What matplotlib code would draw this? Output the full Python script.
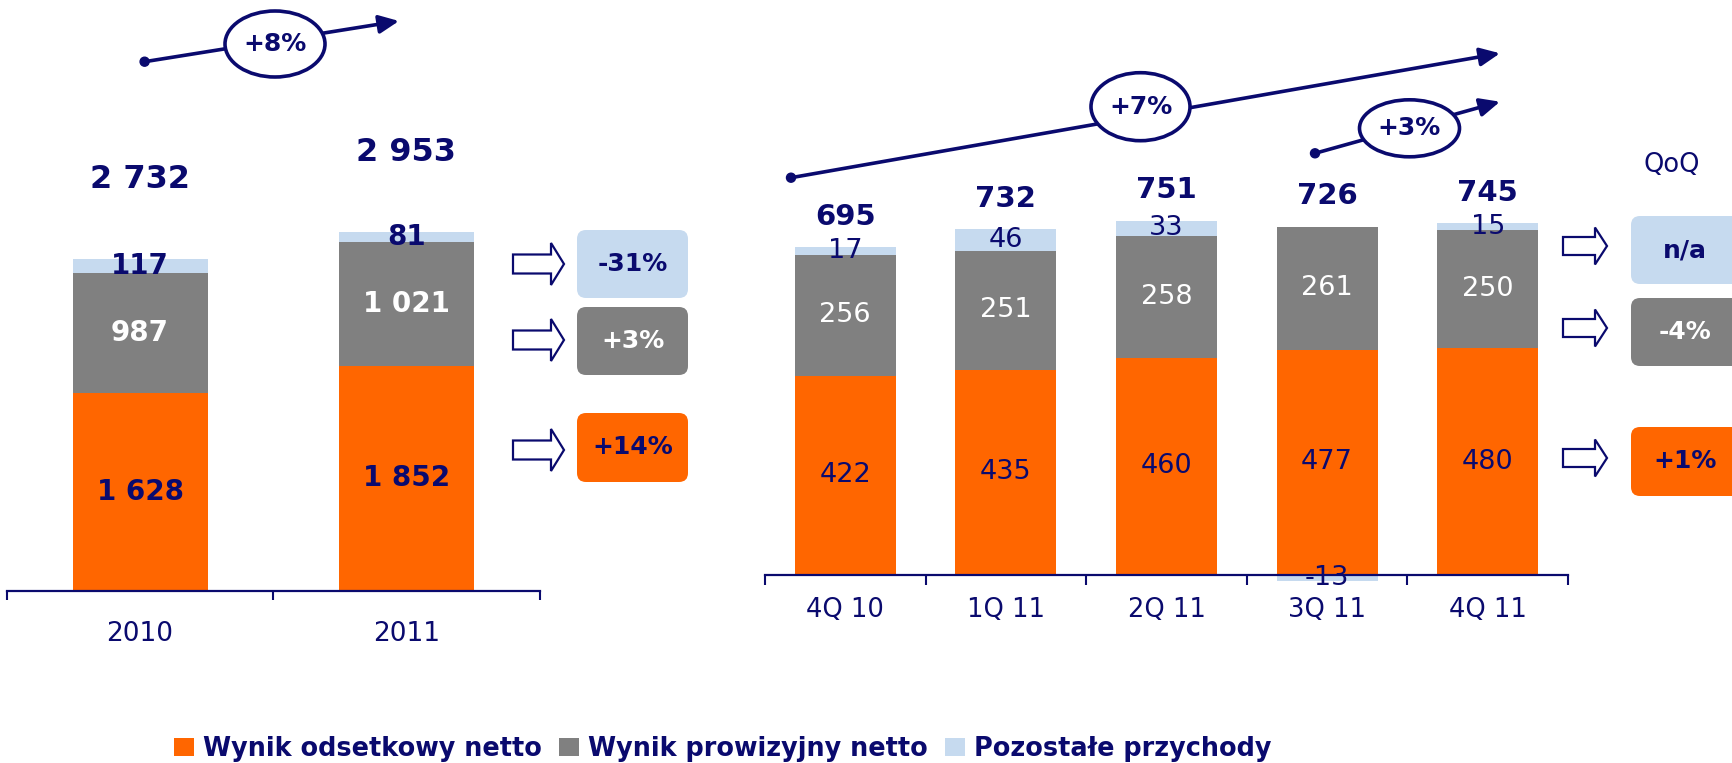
import matplotlib
matplotlib.use('Agg')
import matplotlib.pyplot as plt
import matplotlib.transforms as mtransforms
from matplotlib.patches import FancyBboxPatch, Ellipse, Polygon, Circle, FancyArrowPatch

plt.rcParams['font.family'] = ['DejaVu Sans']

NAVY = '#0A0A6E'
ORANGE = '#FF6600'
GREY = '#808080'
LIGHT = '#C6DAEF'

# ---------------- data ----------------
years = ['2010', '2011']
y_interest = [1628, 1852]
y_fee = [987, 1021]
y_other = [117, 81]
y_total = [2732, 2953]
y_change = ['-31%', '+3%', '+14%']      # other, fee, interest
y_growth = '+8%'

quarters = ['4Q 10', '1Q 11', '2Q 11', '3Q 11', '4Q 11']
q_interest = [422, 435, 460, 477, 480]
q_fee = [256, 251, 258, 261, 250]
q_other = [17, 46, 33, -13, 15]
q_total = [695, 732, 751, 726, 745]
q_change = ['n/a', '-4%', '+1%']        # other, fee, interest
q_growth_yoy = '+7%'
q_growth_qoq = '+3%'
qoq_title = 'QoQ'

legend_labels = ['Wynik odsetkowy netto', 'Wynik prowizyjny netto', 'Pozostałe przychody']

# ---------------- figure ----------------
W, H = 1732, 763
fig = plt.figure(figsize=(W / 100, H / 100), dpi=100)
px = mtransforms.Affine2D().scale(1, -1).translate(0, H)   # pixel coords, y from top


def add_axes_px(left, top, right, bottom):
    return fig.add_axes([left / W, 1 - bottom / H, (right - left) / W, (bottom - top) / H])


def fmt(v):
    return f"{v:,}".replace(',', ' ')


def setup_axis(ax, n, tick_len_pt):
    ax.set_xlim(-0.5, n - 0.5)
    for s in ['top', 'right', 'left']:
        ax.spines[s].set_visible(False)
    ax.spines['bottom'].set_position(('data', 0))
    ax.spines['bottom'].set_color(NAVY)
    ax.spines['bottom'].set_linewidth(1.6)
    ax.spines['bottom'].set_zorder(5)
    ax.set_yticks([])
    ax.set_xticks([])
    ax.set_xticks([i - 0.5 for i in range(n + 1)], minor=True)
    ax.tick_params(axis='x', which='minor', length=tick_len_pt, width=1.5,
                   color=NAVY, direction='out')
    ax.patch.set_alpha(0)


def stacked(ax, interest, fee, other, width):
    x = list(range(len(interest)))
    b1 = ax.bar(x, interest, width=width, color=ORANGE, zorder=2)
    b2 = ax.bar(x, fee, width=width, bottom=interest, color=GREY, zorder=2)
    base3 = [a + b if o >= 0 else 0 for a, b, o in zip(interest, fee, other)]
    b3 = ax.bar(x, other, width=width, bottom=base3, color=LIGHT, zorder=2)
    return b1, b2, b3, base3


# ---------------- left panel (years) ----------------
axL = add_axes_px(7, 0, 539.5, 591)
axL.set_ylim(0, 591 / 0.1216)
setup_axis(axL, len(years), 6.5)
b1, b2, b3, baseL = stacked(axL, y_interest, y_fee, y_other, 0.507)
tL = mtransforms.blended_transform_factory(axL.transData, px)
for i in range(len(years)):
    axL.text(i, y_interest[i] / 2, fmt(y_interest[i]), ha='center', va='center',
             color=NAVY, fontsize=20, fontweight='bold', zorder=6)
    axL.text(i, y_interest[i] + y_fee[i] / 2, fmt(y_fee[i]), ha='center', va='center',
             color='white', fontsize=20, fontweight='bold', zorder=6)
    axL.text(i, baseL[i] + y_other[i] / 2, fmt(y_other[i]), ha='center', va='center',
             color=NAVY, fontsize=20, fontweight='bold', zorder=6)
    top = y_interest[i] + y_fee[i] + max(y_other[i], 0)
    axL.text(i, top + 581, fmt(y_total[i]), ha='center', va='baseline',
             color=NAVY, fontsize=23, fontweight='bold', zorder=6)
    axL.text(i, 641, years[i], transform=tL, ha='center', va='baseline',
             color=NAVY, fontsize=19)

# ---------------- right panel (quarters) ----------------
scaleR = 0.472
axR = add_axes_px(765, 0, 1568, 600)
axR.set_ylim(-25 / scaleR, 575 / scaleR)
setup_axis(axR, len(quarters), 7.2)
c1, c2, c3, baseR = stacked(axR, q_interest, q_fee, q_other, 0.629)
tR = mtransforms.blended_transform_factory(axR.transData, px)
for i in range(len(quarters)):
    axR.text(i, q_interest[i] / 2, fmt(q_interest[i]), ha='center', va='center',
             color=NAVY, fontsize=19.5, zorder=6)
    axR.text(i, q_interest[i] + q_fee[i] / 2, fmt(q_fee[i]), ha='center', va='center',
             color='white', fontsize=19.5, zorder=6)
    axR.text(i, baseR[i] + q_other[i] / 2, fmt(q_other[i]), ha='center', va='center',
             color=NAVY, fontsize=19.5, zorder=6)
    top = q_interest[i] + q_fee[i] + max(q_other[i], 0)
    axR.text(i, top + 47, fmt(q_total[i]), ha='center', va='baseline',
             color=NAVY, fontsize=21, fontweight='bold', zorder=6)
    axR.text(i, 617.5, quarters[i], transform=tR, ha='center', va='baseline',
             color=NAVY, fontsize=18.5)

# ---------------- change badges and block arrows ----------------
badge_fc = [LIGHT, GREY, ORANGE]
badge_tc = [NAVY, 'white', NAVY]


def badge(x0, y0, w, h, fc, text, tc, tx=None):
    p = FancyBboxPatch((x0, y0), w, h, boxstyle='round,pad=0,rounding_size=9',
                       transform=px, facecolor=fc, edgecolor='none')
    fig.add_artist(p)
    cx = x0 + w / 2 if tx is None else tx
    fig.text(cx, y0 + h / 2, text, transform=px, ha='center', va='center',
             color=tc, fontsize=18, fontweight='bold')


def block_arrow(x0, yc, length, shaft, sh, hh):
    pts = [(x0, yc - sh), (x0 + shaft, yc - sh), (x0 + shaft, yc - hh), (x0 + length, yc),
           (x0 + shaft, yc + hh), (x0 + shaft, yc + sh), (x0, yc + sh)]
    fig.add_artist(Polygon(pts, closed=True, transform=px, facecolor='white',
                           edgecolor=NAVY, linewidth=1.6))


left_boxes = [(230, 298), (307, 375), (413, 482)]
left_arrow_y = [264, 340, 450]
for k in range(3):
    y0, y1 = left_boxes[k]
    badge(577, y0, 111, y1 - y0, badge_fc[k], y_change[k], badge_tc[k])
    block_arrow(513, left_arrow_y[k], 51, 38, 9.5, 21)

right_boxes = [(216, 284), (298, 366), (427, 496)]
right_arrow_y = [246, 328, 458]
for k in range(3):
    y0, y1 = right_boxes[k]
    badge(1631, y0, 112, y1 - y0, badge_fc[k], q_change[k], badge_tc[k], tx=1685)
    block_arrow(1563, right_arrow_y[k], 44, 32, 9, 18.5)

fig.text(1672, 165, qoq_title, transform=px, ha='center', va='center',
         color=NAVY, fontsize=18.5)


# ---------------- growth arrows with ellipses ----------------
def growth(start, tip, ell, text):
    arr = FancyArrowPatch(start, tip, transform=px, shrinkA=0, shrinkB=0,
                          arrowstyle='-|>,head_length=12,head_width=5.5',
                          color=NAVY, linewidth=2.6, mutation_scale=1)
    fig.add_artist(arr)
    fig.add_artist(Circle(start, 4.5, transform=px, color=NAVY))
    cx, cy, w, h = ell
    fig.add_artist(Ellipse((cx, cy), w, h, transform=px, facecolor='white',
                           edgecolor=NAVY, linewidth=2.6, zorder=3))
    fig.text(cx, cy, text, transform=px, ha='center', va='center', color=NAVY,
             fontsize=18, fontweight='bold', zorder=4)


growth((144.6, 61.7), (399, 21), (275, 44, 100, 66), y_growth)
growth((791, 177.7), (1500, 53.3), (1140.5, 106.7, 99, 68), q_growth_yoy)
growth((1315, 153.3), (1500, 101.7), (1409.5, 128.3, 100, 57), q_growth_qoq)

# ---------------- legend ----------------
fig.legend([b1, b2, b3], legend_labels, loc='center', bbox_to_anchor=(723 / W, 1 - 749 / H),
           ncol=3, frameon=False, handlelength=0.78, handleheight=0.7, handletextpad=0.35,
           columnspacing=0.67, borderpad=0, borderaxespad=0,
           prop={'size': 18.4, 'weight': 'bold'}, labelcolor=NAVY)

fig.savefig('out.png', dpi=100)
